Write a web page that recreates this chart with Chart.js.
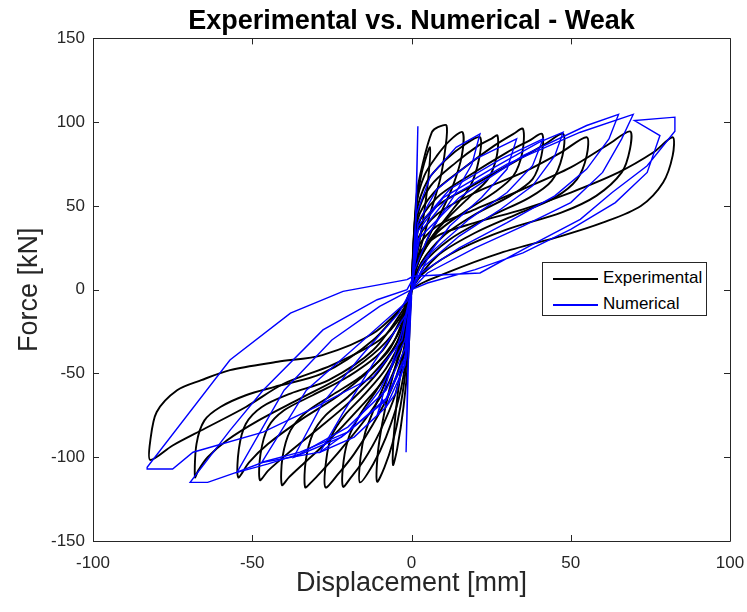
<!DOCTYPE html>
<html>
<head>
<meta charset="utf-8">
<script src="https://cdn.jsdelivr.net/npm/chart.js@4.4.1/dist/chart.umd.min.js"></script>
<style>
  body { margin: 0; background: #fff; }
  #wrap { position: relative; width: 747px; height: 612px; }
  #legend {
    position: absolute; left: 542px; top: 262px; width: 163px; height: 52px;
    border: 1px solid #262626; background: #fff;
    font-family: "Liberation Sans", Arial, sans-serif; font-size: 17px; color: #000;
  }
  #legend .row { position: absolute; left: 10px; height: 20px; line-height: 20px; }
  #legend .swatch { display: inline-block; width: 45px; height: 0; vertical-align: middle; margin-right: 5px; }
</style>
</head>
<body>
<div id="wrap">
  <canvas id="chart"></canvas>
  <div id="legend">
    <div class="row" style="top:5px"><span class="swatch" style="border-top:2px solid #000"></span>Experimental</div>
    <div class="row" style="top:31px"><span class="swatch" style="border-top:2px solid #0000ff"></span>Numerical</div>
  </div>
</div>
<script>
// axis ranges and ticks
const xTicks = [-100, -50, 0, 50, 100];
const yTicks = [-150, -100, -50, 0, 50, 100, 150];

// experimental cycles, [displacement mm, force kN]
const exp01 = [[0,0],[1,40],[3,68],[5.8,85],[5.2,65],[3.5,40],[1.5,18],[0,0],[-1,-40],[-2.5,-70],[-4.5,-95],[-5.8,-104.6],[-5.6,-88],[-4.5,-65],[-2.5,-38],[-0.8,-14],[0,0]];
const exp02 = [[0,0],[1.5,55],[3.5,75],[6.4,94],[8.3,97],[11,98],[10.6,84],[9,66],[5.8,45],[2.7,24],[0.5,8],[0,0],[-1.5,-42],[-3.5,-70],[-6,-92],[-8.5,-106],[-10.8,-114.6],[-10.6,-98],[-9.2,-80],[-7,-60],[-4,-38],[-1.5,-16],[0,0]];
const exp03 = [[0,0],[1.5,50],[4,68],[8,80],[12,89],[16,94],[15.8,80],[13,62],[9,45],[4.5,28],[1,10],[0,0],[-1.5,-38],[-4,-65],[-8,-88],[-12,-104],[-16.2,-115],[-16,-100],[-14.5,-85],[-11.5,-70],[-7.5,-52],[-3.5,-32],[-0.5,-10],[0,0]];
const exp04 = [[0,0],[1.5,45],[5,65],[11,78],[17,87],[21.5,91],[21.2,78],[18.5,62],[13,48],[7,33],[2,16],[0,0],[-2,-35],[-5,-62],[-10,-85],[-15,-102],[-19,-112],[-21.5,-117.6],[-21.3,-102],[-19.5,-87],[-16,-74],[-11,-60],[-6,-44],[-2,-24],[0,0]];
const exp05 = [[0,0],[2,45],[6,62],[14,76],[21,86],[25,90],[27,92],[26.8,80],[24,66],[18,55],[11,42],[5,28],[1,12],[0,0],[-2,-32],[-6,-58],[-12,-80],[-18,-98],[-23,-110],[-27,-118],[-26.8,-102],[-25,-87],[-21,-75],[-15,-63],[-8,-47],[-3,-28],[0,0]];
const exp06 = [[0,0],[2,42],[7,58],[16,72],[26,86],[32,93],[35,96],[34.8,82],[32,68],[26,58],[17,47],[8,34],[2,16],[0,0],[-2.5,-30],[-7,-55],[-14,-76],[-22,-95],[-28,-108],[-31.5,-115],[-33.4,-118],[-33.2,-102],[-31,-86],[-27,-75],[-20,-64],[-12,-50],[-5,-33],[-1,-12],[0,0]];
const exp07 = [[0,0],[2,38],[8,55],[18,68],[30,82],[37,89],[41,93],[40.8,80],[38,66],[31,56],[20,45],[10,32],[3,16],[0,0],[-2.5,-28],[-8,-52],[-17,-72],[-26,-90],[-34,-104],[-38.5,-112],[-40.7,-116.6],[-40.5,-100],[-38,-84],[-33,-73],[-25,-63],[-16,-52],[-7,-36],[-1.5,-12],[0,0]];
const exp08 = [[0,0],[2,35],[8,50],[20,63],[33,77],[42,87],[47.6,93],[47.4,80],[44,65],[37,55],[25,44],[12,30],[3,14],[0,0],[-3,-25],[-10,-48],[-20,-68],[-30,-84],[-39,-98],[-45,-108],[-47.6,-113.6],[-47.4,-98],[-45,-82],[-40,-72],[-31,-63],[-20,-52],[-9,-36],[-2,-12],[0,0]];
const exp09 = [[0,0],[2,30],[8,45],[20,58],[35,70],[47,82],[55,91],[55,80],[52,66],[45,55],[33,45],[20,34],[8,20],[0,0],[-3,-22],[-10,-42],[-22,-62],[-35,-78],[-45,-92],[-51,-103],[-54.4,-112],[-54.2,-95],[-52,-80],[-47,-70],[-38,-62],[-26,-54],[-12,-36],[-2,-10],[0,0]];
const exp10 = [[0,0],[2,25],[8,38],[20,48],[35,60],[50,73],[62,87],[68.6,94.5],[68.6,84],[66,70],[58,56],[47,46],[30,36],[15,24],[5,12],[0,0],[-3,-18],[-10,-35],[-22,-52],[-35,-65],[-48,-78],[-58,-90],[-64,-100],[-67,-108],[-68,-112],[-67.5,-92],[-65,-78],[-60,-70],[-52,-63],[-43,-58],[-28,-50],[-12,-30],[-2,-8],[0,0]];
const exp11 = [[0,0],[2,20],[8,32],[20,40],[35,48],[50,58],[65,70],[76,82],[82,91],[82,80],[79,64],[72,50],[60,40],[47,32],[28,22],[11,10],[0,0],[-3,-15],[-10,-30],[-25,-45],[-40,-56],[-52,-70],[-65,-83],[-75,-93],[-82,-101.6],[-82,-90],[-80,-73],[-73.6,-60],[-66,-54],[-57,-48],[-42,-43],[-28,-39],[-12,-26],[-1,-6],[0,0]];

// numerical cycles
const num01 = [[0,0],[1,20],[2,97.5],[1.5,50],[0.5,10],[0,0],[-0.8,-30],[-1.7,-97],[-1.2,-50],[0,-5],[0,0]];
const num02 = [[0,0],[1.5,45],[6,68],[14,85],[21.5,93],[19,75],[13,55],[6,35],[1,12],[0,0],[-1.5,-40],[-5,-62],[-8,-70],[-9,-66],[-10.8,-75],[-7,-50],[-3,-25],[0,0]];
const num03 = [[0,0],[2,40],[8,60],[20,78],[33,90],[30,72],[22,55],[12,38],[3,15],[0,0],[-2,-45],[-8,-70],[-18,-88],[-28.7,-97],[-21.5,-73.5],[-12,-44],[-1.4,-14],[0,0]];
const num04 = [[0,0],[2,38],[12,60],[28,78],[41.3,90],[38,74],[30,58],[18,42],[6,22],[0,0],[-2,-42],[-8,-66],[-22,-88],[-37,-100],[-28,-68],[-16,-40],[-4,-14],[0,0]];
const num05 = [[0,0],[2,35],[10,55],[25,72],[40,88],[47.6,94],[45,80],[38,62],[28,48],[15,32],[4,14],[0,0],[-2,-40],[-8,-65],[-20,-85],[-35,-97],[-47,-103],[-33,-60],[-18,-35],[-1.4,-7],[0,0]];
const num06 = [[0,0],[2,30],[15,55],[35,80],[55,98],[65,104.6],[62,90],[55,72],[45,56],[30,40],[15,25],[3,10],[0,0],[-2,-35],[-8,-60],[-20,-82],[-35,-98],[-45,-104],[-54.8,-109],[-40,-60],[-25,-30],[-10,-10],[0,0]];
const num07 = [[0,5],[3,35],[11,54],[30,75],[53,94],[69.6,104.6],[66,90],[60,70],[50,52],[35,38],[20,25],[5,10],[0,0],[-2,-30],[-10,-60],[-20,-85],[-28.7,-97],[-46.6,-103],[-55,-109],[-64,-115],[-69.5,-115],[-57,-84],[-46.6,-60],[-27.8,-24],[-10.8,-6],[-1.4,0],[0,5]];
const num08 = [[-1.4,6],[0.5,8],[21.5,10],[37,26],[53,42],[63,58],[74,74],[82.7,94.6],[82.7,103],[70,101],[78,92],[74,70],[64,52],[50,36],[35,22],[20,12],[5,4],[0,0],[-3,-30],[-12,-52],[-30,-70],[-46.6,-85],[-68.6,-97],[-75,-107],[-83,-107],[-83,-106],[-57,-42],[-38,-14],[-21.5,-1],[-1.4,6]];

const expCycles = [exp01, exp02, exp03, exp04, exp05, exp06, exp07, exp08, exp09, exp10, exp11];
const numCycles = [num01, num02, num03, num04, num05, num06, num07, num08];

const FONT = "'Liberation Sans', Arial, Helvetica, sans-serif";

const datasets = [];
expCycles.forEach(function (c) {
  datasets.push({ data: c, borderColor: "#000000", borderWidth: 1.9, tension: 0.3, order: 2 });
});
numCycles.forEach(function (c) {
  datasets.push({ data: c, borderColor: "#0000ff", borderWidth: 1.4, tension: 0, order: 1 });
});

// box with inward tick marks, like the original
const boxPlugin = {
  id: "box",
  afterDraw(chart) {
    const ctx = chart.ctx;
    const a = chart.chartArea;
    const x = chart.scales.x;
    const y = chart.scales.y;
    ctx.save();
    ctx.strokeStyle = "#262626";
    ctx.lineWidth = 1;
    ctx.beginPath();
    ctx.rect(Math.round(a.left) + 0.5, Math.round(a.top) + 0.5, Math.round(a.right - a.left), Math.round(a.bottom - a.top));
    xTicks.forEach(function (v) {
      const p = Math.round(x.getPixelForValue(v)) + 0.5;
      ctx.moveTo(p, a.bottom); ctx.lineTo(p, a.bottom - 6);
      ctx.moveTo(p, a.top); ctx.lineTo(p, a.top + 6);
    });
    yTicks.forEach(function (v) {
      const p = Math.round(y.getPixelForValue(v)) + 0.5;
      ctx.moveTo(a.left, p); ctx.lineTo(a.left + 6, p);
      ctx.moveTo(a.right, p); ctx.lineTo(a.right - 6, p);
    });
    ctx.stroke();
    ctx.restore();
  }
};

new Chart(document.getElementById("chart"), {
  type: "scatter",
  data: { datasets: datasets },
  options: {
    responsive: true,
    maintainAspectRatio: false,
    animation: false,
    showLine: true,
    elements: { point: { radius: 0, hoverRadius: 0 } },
    layout: { padding: { top: 1, right: 17, bottom: 0, left: 0 } },
    plugins: {
      legend: { display: false },
      tooltip: { enabled: false },
      title: {
        display: true,
        fullSize: false,
        text: "Experimental vs. Numerical - Weak",
        color: "#000",
        font: { family: FONT, size: 27, weight: "bold", lineHeight: 1.2 },
        padding: { top: 4, bottom: 1 }
      }
    },
    scales: {
      x: {
        type: "linear", min: -100, max: 100,
        afterFit: function (s) { s.height = 71; s.paddingLeft = 0; s.paddingRight = 0; },
        afterBuildTicks: function (s) { s.ticks = xTicks.map(function (v) { return { value: v }; }); },
        grid: { display: false, drawTicks: false }, border: { display: false },
        ticks: { color: "#262626", font: { family: FONT, size: 17 }, padding: 12, maxRotation: 0 },
        title: { display: true, text: "Displacement [mm]", color: "#262626", font: { family: FONT, size: 27, lineHeight: 1.2 }, padding: { top: 0, bottom: 12 } }
      },
      y: {
        type: "linear", min: -150, max: 150,
        afterFit: function (s) { s.width = 93; s.paddingTop = 0; s.paddingBottom = 0; },
        afterBuildTicks: function (s) { s.ticks = yTicks.map(function (v) { return { value: v }; }); },
        grid: { display: false, drawTicks: false }, border: { display: false },
        ticks: { color: "#262626", font: { family: FONT, size: 17 }, padding: 8 },
        title: { display: true, text: "Force [kN]", color: "#262626", font: { family: FONT, size: 27, lineHeight: 1.2 }, padding: { top: 13, bottom: 0 } }
      }
    }
  },
  plugins: [boxPlugin]
});
</script>
</body>
</html>
